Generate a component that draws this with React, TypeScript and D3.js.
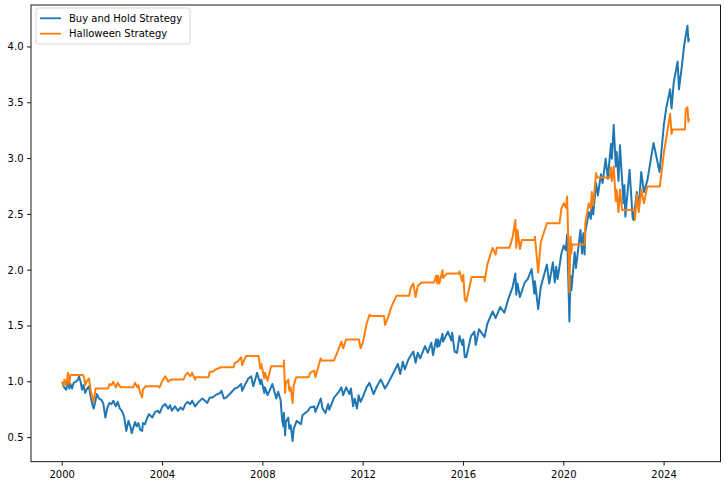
import React from "react";
import * as d3 from "d3";

// Buy and Hold Strategy (cumulative value)
const bhDates = [
  "2000-01-03","2000-01-20","2000-02-10","2000-03-01","2000-03-24","2000-04-14","2000-05-01","2000-05-24","2000-06-15","2000-07-15","2000-08-20","2000-09-01","2000-09-25","2000-10-15","2000-11-05","2000-12-01","2000-12-20",
  "2001-01-25","2001-02-20","2001-03-22","2001-04-04","2001-05-20","2001-06-20","2001-07-20","2001-08-20","2001-09-21","2001-10-20","2001-11-20","2001-12-20",
  "2002-01-15","2002-02-20","2002-03-19","2002-04-20","2002-05-20","2002-06-20","2002-07-23","2002-08-22","2002-09-20","2002-10-09","2002-11-27","2002-12-20",
  "2003-01-14","2003-02-10","2003-03-11","2003-03-21","2003-04-20","2003-05-20","2003-06-17","2003-08-05","2003-09-15","2003-10-20","2003-11-20","2003-12-31",
  "2004-02-10","2004-03-24","2004-04-20","2004-05-17","2004-06-30","2004-08-12","2004-09-20","2004-10-25","2004-11-30","2004-12-31",
  "2005-02-10","2005-03-07","2005-04-20","2005-06-10","2005-08-03","2005-09-10","2005-10-13","2005-11-20","2005-12-31",
  "2006-02-10","2006-04-20","2006-05-08","2006-06-13","2006-07-20","2006-09-20","2006-11-20","2006-12-31",
  "2007-02-20","2007-03-05","2007-04-30","2007-06-04","2007-07-15","2007-08-15","2007-10-09","2007-11-26","2007-12-10",
  "2008-01-22","2008-02-01","2008-03-10","2008-05-19","2008-07-15","2008-08-11","2008-09-15","2008-10-10","2008-10-27","2008-11-04","2008-11-20","2008-12-01",
  "2009-01-06","2009-01-20","2009-02-10","2009-03-09","2009-03-26","2009-05-08","2009-07-10","2009-08-01","2009-10-20","2009-11-20",
  "2010-01-19","2010-02-05","2010-04-23","2010-05-20","2010-07-02","2010-08-09","2010-08-26","2010-11-05","2010-12-31",
  "2011-02-18","2011-03-16","2011-04-29","2011-06-15","2011-07-07","2011-08-08","2011-08-31","2011-10-03","2011-10-27","2011-11-25","2011-12-31",
  "2012-02-20","2012-04-02","2012-06-01","2012-07-20","2012-09-14","2012-11-15","2012-12-31",
  "2013-02-20","2013-05-21","2013-06-24","2013-08-02","2013-08-30","2013-10-20","2013-11-29",
  "2014-01-01","2014-02-03","2014-03-07","2014-04-11","2014-06-20","2014-07-31","2014-09-19","2014-10-15","2014-11-28","2014-12-16","2014-12-29",
  "2015-01-15","2015-03-02","2015-03-10","2015-05-20","2015-07-08","2015-07-20","2015-08-25","2015-09-29","2015-11-03","2015-12-14","2015-12-29",
  "2016-01-20","2016-02-11","2016-04-20","2016-06-08","2016-06-27","2016-08-15","2016-11-04","2016-12-13",
  "2017-03-01","2017-04-13","2017-06-19","2017-08-18","2017-10-20","2017-12-18",
  "2018-01-26","2018-02-08","2018-02-26","2018-04-02","2018-06-12","2018-07-25","2018-09-20","2018-10-29","2018-11-07","2018-12-24",
  "2019-01-31","2019-04-30","2019-06-03","2019-07-26","2019-08-23","2019-09-12","2019-10-03","2019-11-27","2019-12-31",
  "2020-01-31","2020-02-19","2020-03-09","2020-03-23","2020-04-08","2020-04-21","2020-06-08","2020-06-26","2020-08-31","2020-09-23","2020-10-12","2020-10-30","2020-11-09","2020-12-31",
  "2021-01-29","2021-02-12","2021-03-04","2021-04-16","2021-05-12","2021-06-25","2021-07-19","2021-09-02","2021-10-04","2021-11-18","2021-12-01","2021-12-28",
  "2022-01-27","2022-02-09","2022-03-08","2022-03-29","2022-05-20","2022-06-02","2022-06-16","2022-08-16","2022-09-30","2022-10-12","2022-11-30","2022-12-28",
  "2023-02-02","2023-03-13","2023-05-01","2023-07-31","2023-10-27","2023-12-28",
  "2024-02-01","2024-03-28","2024-04-19","2024-05-20","2024-07-16","2024-08-05","2024-09-20","2024-10-18","2024-11-11","2024-12-06","2024-12-20","2024-12-31"
];
const bhValues = [
  1.00,0.96,0.94,0.93,1.03,0.94,0.98,0.94,0.99,1.00,1.02,1.05,1.00,0.93,0.97,0.90,0.93,
  0.96,0.86,0.78,0.76,0.89,0.85,0.84,0.81,0.68,0.77,0.81,0.80,
  0.83,0.78,0.82,0.76,0.74,0.69,0.56,0.65,0.60,0.54,0.64,0.60,
  0.63,0.57,0.56,0.63,0.62,0.67,0.71,0.68,0.73,0.74,0.72,0.78,
  0.80,0.76,0.79,0.74,0.78,0.74,0.77,0.75,0.80,0.82,
  0.80,0.83,0.78,0.82,0.85,0.83,0.81,0.86,0.86,
  0.88,0.90,0.92,0.85,0.86,0.90,0.94,0.95,
  0.98,0.92,0.99,1.03,1.05,0.96,1.08,0.98,1.02,
  0.90,0.95,0.88,0.98,0.85,0.91,0.84,0.65,0.60,0.72,0.52,0.64,
  0.68,0.58,0.61,0.47,0.58,0.65,0.62,0.70,0.74,0.77,
  0.78,0.73,0.85,0.76,0.72,0.80,0.75,0.86,0.90,
  0.95,0.88,0.95,0.89,0.94,0.78,0.85,0.76,0.88,0.82,0.87,
  0.95,0.99,0.89,0.96,1.02,0.94,0.99,
  1.05,1.16,1.07,1.18,1.11,1.20,1.24,
  1.27,1.17,1.26,1.21,1.32,1.26,1.35,1.24,1.38,1.31,1.38,
  1.32,1.43,1.36,1.45,1.37,1.44,1.27,1.26,1.41,1.33,1.38,
  1.22,1.22,1.41,1.45,1.33,1.47,1.40,1.52,
  1.63,1.57,1.67,1.62,1.75,1.85,
  1.97,1.78,1.88,1.76,1.89,1.92,2.01,1.79,1.90,1.65,
  1.85,2.05,1.88,2.07,1.89,2.03,1.92,2.15,2.22,
  2.18,2.32,1.87,1.54,1.95,1.82,2.16,2.02,2.36,2.15,2.33,2.14,2.34,2.52,
  2.46,2.63,2.50,2.78,2.67,2.86,2.78,3.00,2.82,3.13,3.00,3.30,
  2.93,3.06,2.80,3.12,2.60,2.76,2.48,2.90,2.47,2.45,2.70,2.55,
  2.88,2.70,2.80,3.14,2.88,3.30,
  3.45,3.62,3.45,3.68,3.87,3.62,3.85,4.01,4.10,4.19,4.05,4.08
];

// Halloween Strategy (invested Nov-Apr, flat May-Oct)
const hwDates = [
  "2000-01-03","2000-01-20","2000-02-01","2000-02-15","2000-03-01","2000-03-24","2000-04-14","2000-04-30","2000-10-31","2000-11-15","2000-12-01","2000-12-20",
  "2001-01-25","2001-02-20","2001-03-22","2001-04-04","2001-04-30","2001-10-31","2001-11-20","2001-12-20",
  "2002-01-15","2002-02-20","2002-03-19","2002-04-30","2002-10-31","2002-11-27","2002-12-31",
  "2003-01-14","2003-02-10","2003-03-11","2003-03-21","2003-04-30","2003-10-31","2003-11-20","2003-12-31",
  "2004-02-10","2004-03-24","2004-04-30","2004-10-31","2004-11-30","2004-12-31",
  "2005-02-10","2005-03-07","2005-04-20","2005-04-30","2005-10-31","2005-11-20","2005-12-31",
  "2006-02-10","2006-04-30","2006-10-31","2006-11-20","2006-12-31",
  "2007-02-20","2007-03-05","2007-04-30","2007-10-31","2007-11-26","2007-12-10",
  "2008-01-22","2008-02-01","2008-03-10","2008-04-30","2008-10-31","2008-11-04","2008-11-20","2008-12-01",
  "2009-01-06","2009-01-20","2009-02-10","2009-03-09","2009-03-26","2009-04-30","2009-10-31","2009-11-20",
  "2010-01-19","2010-02-05","2010-04-23","2010-04-30","2010-10-31","2010-12-31",
  "2011-02-18","2011-03-16","2011-04-29","2011-10-31","2011-11-25","2011-12-31",
  "2012-02-20","2012-04-02","2012-04-30","2012-10-31","2012-11-15","2012-12-31",
  "2013-02-20","2013-04-30","2013-10-31","2013-11-29",
  "2014-01-01","2014-02-03","2014-03-07","2014-04-30","2014-10-31","2014-11-28","2014-12-16","2014-12-29",
  "2015-01-15","2015-03-02","2015-03-10","2015-04-30","2015-10-31","2015-11-03","2015-12-14","2015-12-29",
  "2016-01-20","2016-02-11","2016-04-30","2016-10-31","2016-11-04","2016-12-13",
  "2017-03-01","2017-04-13","2017-04-30","2017-10-31","2017-12-18",
  "2018-01-26","2018-02-08","2018-02-26","2018-04-02","2018-04-30","2018-10-31","2018-11-07","2018-12-24",
  "2019-01-31","2019-04-30","2019-10-31","2019-11-27","2019-12-31",
  "2020-01-31","2020-02-19","2020-03-09","2020-03-23","2020-04-08","2020-04-21","2020-04-30","2020-10-31","2020-11-09","2020-12-31",
  "2021-01-29","2021-02-12","2021-03-04","2021-04-16","2021-04-30","2021-10-31","2021-11-18","2021-12-01","2021-12-28",
  "2022-01-27","2022-02-09","2022-03-08","2022-03-29","2022-04-30","2022-10-31","2022-11-03","2022-11-30","2022-12-28",
  "2023-02-02","2023-03-13","2023-04-30","2023-10-31","2023-11-30","2023-12-28",
  "2024-02-01","2024-03-28","2024-04-19","2024-04-30","2024-10-31","2024-11-11","2024-12-06","2024-12-20","2024-12-31"
];
const hwValues = [
  1.00,0.97,1.02,0.98,0.97,1.08,0.98,1.06,1.06,1.04,0.97,1.00,
  1.03,0.92,0.84,0.82,0.94,0.94,0.98,0.97,
  1.00,0.95,0.99,0.95,0.95,0.99,0.95,
  0.97,0.90,0.86,0.93,0.96,0.96,0.95,1.01,
  1.05,1.00,1.02,1.02,1.06,1.08,
  1.05,1.08,1.02,1.04,1.04,1.09,1.09,
  1.11,1.13,1.13,1.17,1.18,
  1.22,1.15,1.23,1.23,1.12,1.16,
  1.03,1.08,1.01,1.14,1.14,1.19,0.90,0.99,
  1.02,0.92,0.95,0.81,0.97,1.04,1.04,1.08,
  1.10,1.04,1.21,1.19,1.19,1.28,
  1.36,1.30,1.38,1.38,1.30,1.36,
  1.52,1.60,1.59,1.59,1.51,1.58,
  1.68,1.77,1.77,1.85,
  1.88,1.76,1.86,1.89,1.89,1.95,1.88,1.95,
  1.88,2.00,1.93,1.97,1.97,1.99,1.90,1.96,
  1.74,1.72,1.94,1.94,1.90,2.05,
  2.20,2.14,2.20,2.20,2.30,
  2.45,2.20,2.36,2.19,2.27,2.27,2.30,1.98,
  2.25,2.42,2.42,2.55,2.60,
  2.56,2.66,2.20,1.80,2.30,2.15,2.23,2.23,2.42,2.60,
  2.55,2.70,2.58,2.87,2.83,2.83,2.92,2.80,2.93,
  2.62,2.72,2.52,2.72,2.54,2.54,2.45,2.68,2.52,
  2.72,2.60,2.75,2.75,2.90,3.05,
  3.18,3.40,3.22,3.26,3.26,3.44,3.46,3.33,3.36
];

const seriesNames = ["Buy and Hold Strategy", "Halloween Strategy"];
const seriesColors = ["#1f77b4", "#ff7f0e"];
const xTickYears = [2000, 2004, 2008, 2012, 2016, 2020, 2024];
const yTickValues = [0.5, 1.0, 1.5, 2.0, 2.5, 3.0, 3.5, 4.0];

export default function App() {
  const W = 725;
  const H = 488;
  const left = 31;
  const right = 720.5;
  const top = 5;
  const bottom = 461.7;
  const font = "'DejaVu Sans', sans-serif";

  const parse = d3.timeParse("%Y-%m-%d");
  const bh = bhDates.map((d, i) => ({ date: parse(d) as Date, v: bhValues[i] }));
  const hw = hwDates.map((d, i) => ({ date: parse(d) as Date, v: hwValues[i] }));
  const all = [...bh, ...hw];

  const [t0, t1] = d3.extent(all, (d) => d.date.getTime()) as [number, number];
  const tp = (t1 - t0) * 0.05;
  const x = d3.scaleTime().domain([new Date(t0 - tp), new Date(t1 + tp)]).range([left, right]);

  const [v0, v1] = d3.extent(all, (d) => d.v) as [number, number];
  const vp = (v1 - v0) * 0.05;
  const y = d3.scaleLinear().domain([v0 - vp, v1 + vp]).range([bottom, top]);

  const line = d3
    .line<{ date: Date; v: number }>()
    .x((d) => x(d.date))
    .y((d) => y(d.v));

  const series = [bh, hw];
  const fmt = d3.format(".1f");

  return (
    <svg
      width={W}
      height={H}
      style={{ position: "absolute", left: 0, top: 0, background: "#fff" }}
      fontFamily={font}
    >
      <rect x={0} y={0} width={W} height={H} fill="#fff" />
      <defs>
        <clipPath id="plotclip">
          <rect x={left} y={top} width={right - left} height={bottom - top} />
        </clipPath>
      </defs>
      <g clipPath="url(#plotclip)">
        {series.map((s, i) => (
          <path
            key={i}
            d={line(s) || ""}
            fill="none"
            stroke={seriesColors[i]}
            strokeWidth={2}
            strokeLinejoin="round"
          />
        ))}
      </g>
      <rect x={left} y={top} width={right - left} height={bottom - top} fill="none" stroke="#000" strokeWidth={0.9} />
      {xTickYears.map((yr) => {
        const px = x(new Date(yr, 0, 1));
        return (
          <g key={yr}>
            <line x1={px} x2={px} y1={bottom} y2={bottom + 4} stroke="#000" strokeWidth={0.9} />
            <text x={px} y={478} textAnchor="middle" fontSize={10} fill="#000">
              {yr}
            </text>
          </g>
        );
      })}
      {yTickValues.map((v) => {
        const py = y(v);
        return (
          <g key={v}>
            <line x1={left - 4} x2={left} y1={py} y2={py} stroke="#000" strokeWidth={0.9} />
            <text x={23.5} y={py} dy="0.35em" textAnchor="end" fontSize={10} fill="#000">
              {fmt(v)}
            </text>
          </g>
        );
      })}
      <g>
        <rect x={36} y={8} width={154} height={36} rx={2.5} fill="#fff" fillOpacity={0.8} stroke="#d0d0d0" strokeWidth={0.9} />
        {seriesNames.map((n, i) => (
          <g key={n}>
            <line x1={40} x2={61} y1={18.3 + i * 15.4} y2={18.3 + i * 15.4} stroke={seriesColors[i]} strokeWidth={1.8} />
            <text x={69} y={18.3 + i * 15.4} dy="0.35em" fontSize={10} fill="#000">
              {n}
            </text>
          </g>
        ))}
      </g>
    </svg>
  );
}
